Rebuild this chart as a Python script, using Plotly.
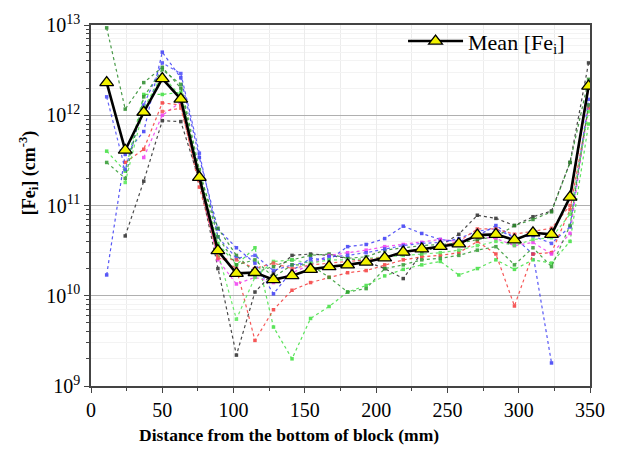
import plotly.graph_objects as go

# Sampling positions along the block (mm)
distance_mm = [11, 24, 37, 50, 63, 76, 89, 102, 115, 128, 141, 154, 167, 180,
               193, 206, 219, 232, 245, 258, 271, 284, 297, 310, 323, 336, 349]

# Interstitial iron concentration of the individual wafers (cm^-3)
wafer_blue_a = [1.7e10, 3.7e11, 6.6e11, 5.0e12, 2.6e12, 3.4e11, 5.5e10, 3.4e10, 2.3e10, 1.05e10,
                1.9e10, 2.6e10, 2.5e10, 3.5e10, 3.7e10, 4.3e10, 5.9e10, 4.9e10, 4.2e10, 4.0e10,
                4.6e10, 6.0e10, 4.4e10, 2.9e10, 1.8e9, None, None]
wafer_blue_b = [1.6e12, 2.5e11, 1.3e12, 3.8e12, 2.9e12, 3.8e11, 4.5e10, 2.6e10, 2.8e10, 1.9e10,
                2.2e10, 2.4e10, 2.7e10, 2.8e10, 3.0e10, 3.3e10, 3.6e10, 3.8e10, 3.9e10, 4.3e10,
                5.2e10, 5.5e10, 4.4e10, 4.6e10, 3.8e10, 5.8e10, 1.5e12]
wafer_lime_a = [4.0e11, 2.4e11, 1.7e12, 1.7e12, 1.8e12, 2.2e11, 3.8e10, 2.2e10, 3.4e10, 4.5e9,
                2.0e9, 5.6e9, 7.6e9, 1.1e10, 1.3e10, 1.66e10, 1.96e10, 2.2e10, 2.4e10, 1.7e10,
                2.0e10, 2.5e10, 1.96e10, 2.5e10, 2.3e10, 4.0e10, 8.0e11]
wafer_lime_b = [None, 1.8e11, 1.2e12, 2.8e12, 1.6e12, 2.0e11, 3.0e10, 5.5e9, 1.6e10, 2.4e10,
                2.5e10, 2.3e10, 2.5e10, 2.5e10, 2.6e10, 2.7e10, 2.8e10, 2.9e10, 3.0e10, 3.2e10,
                3.6e10, 4.0e10, 3.6e10, 4.2e10, 4.4e10, 8.0e10, 1.1e12]
wafer_red_a = [None, 3.0e11, 4.2e11, 1.37e12, 1.3e12, 1.6e11, 2.8e10, 2.0e10, 3.2e9, 7.0e9,
               1.15e10, 1.4e10, 1.6e10, 1.8e10, 1.9e10, 2.2e10, 2.5e10, 2.7e10, 2.8e10, 3.0e10,
               4.0e10, 2.9e10, 7.7e9, 2.9e10, 3.0e10, 9.0e10, 1.2e12]
wafer_red_b = [None, None, None, 1.1e12, 1.2e12, 1.9e11, 2.6e10, 2.5e10, 2.0e10, 2.3e10,
               2.0e10, 2.2e10, 2.3e10, 2.4e10, 2.5e10, 2.7e10, 3.0e10, 3.2e10, 3.6e10, 4.0e10,
               5.5e10, 5.5e10, 4.8e10, 5.2e10, 5.6e10, 1.0e11, 2.0e12]
wafer_black = [None, 4.6e10, 1.86e11, 8.7e11, 8.5e11, 1.9e11, 2.0e10, 2.2e9, 1.1e10, 1.8e10,
               2.8e10, 2.9e10, 2.8e10, 2.6e10, 2.4e10, 2.0e10, 1.55e10, 3.0e10, 3.6e10, 4.8e10,
               7.8e10, 7.2e10, 6.0e10, 7.5e10, 8.7e10, 3.0e11, 3.8e12]
wafer_green_a = [9.3e12, 1.17e12, 2.3e12, 3.4e12, 2.0e12, 2.2e11, 5.6e10, 2.8e10, 1.8e10, 2.1e10,
                 2.5e10, 2.8e10, 2.9e10, 2.6e10, 2.7e10, 3.2e10, 3.4e10, 3.6e10, 3.7e10, 3.8e10,
                 4.2e10, 4.5e10, 6.0e10, 7.0e10, 8.5e10, 3.0e11, 2.5e12]
wafer_green_b = [3.0e11, 2.0e11, 1.6e12, 3.2e12, 2.2e12, 2.5e11, 4.5e10, 2.2e10, 2.5e10, 1.6e10,
                 2.2e10, 2.2e10, 1.6e10, 1.1e10, 1.2e10, 2.0e10, 2.2e10, 2.5e10, 2.6e10, 2.8e10,
                 3.2e10, 3.5e10, 2.2e10, 3.4e10, 2.1e10, 6.0e10, 1.3e12]
wafer_magenta = [None, None, 3.4e11, 1.0e12, 1.4e12, 2.0e11, 2.5e10, 1.35e10, 1.6e10, 1.4e10,
                 1.8e10, 2.2e10, 2.8e10, 3.0e10, 3.2e10, 3.5e10, 3.7e10, 3.9e10, 4.2e10, 4.0e10,
                 4.5e10, 4.3e10, 3.6e10, 3.9e10, 2.9e10, 4.9e10, 1.3e12]

# Mean concentration over all wafers (cm^-3)
mean_fe = [2.3e12, 4.1e11, 1.08e12, 2.55e12, 1.51e12, 2.05e11, 3.16e10, 1.77e10, 1.81e10, 1.51e10,
           1.67e10, 1.96e10, 2.1e10, 2.2e10, 2.36e10, 2.63e10, 3.05e10, 3.3e10, 3.52e10, 3.76e10,
           4.7e10, 4.79e10, 4.15e10, 4.99e10, 4.79e10, 1.24e11, 2.1e12]

y_tick_vals = [1e9, 1e10, 1e11, 1e12, 1e13]
y_tick_text = ["10<sup>9</sup>", "10<sup>10</sup>", "10<sup>11</sup>", "10<sup>12</sup>", "10<sup>13</sup>"]
x_tick_vals = [0, 50, 100, 150, 200, 250, 300, 350]

wafers = [
    (wafer_blue_a, "#3a3af5"),
    (wafer_lime_a, "#3fe03f"),
    (wafer_red_a, "#f53a3a"),
    (wafer_black, "#2a2a2a"),
    (wafer_green_a, "#2a8a2a"),
    (wafer_magenta, "#f03cf0"),
    (wafer_blue_b, "#4a4afa"),
    (wafer_lime_b, "#55e855"),
    (wafer_red_b, "#f55050"),
    (wafer_green_b, "#309a30"),
]

serif = "Liberation Serif"

fig = go.Figure()
for values, color in wafers:
    fig.add_trace(go.Scatter(
        x=distance_mm, y=values, mode="lines+markers",
        line=dict(color=color, width=1.2, dash="dot"),
        marker=dict(color=color, size=3.5, symbol="square"),
        showlegend=False, connectgaps=False, opacity=0.85,
    ))

fig.add_trace(go.Scatter(
    x=distance_mm, y=mean_fe, mode="lines+markers", name="Mean [Fe<sub>i</sub>]",
    line=dict(color="black", width=2.6),
    marker=dict(symbol="triangle-up", size=12, color="#f2f200",
                line=dict(color="black", width=1.3)),
))

fig.update_layout(
    width=617, height=449,
    margin=dict(l=91, r=25, t=17, b=63),
    paper_bgcolor="white", plot_bgcolor="white",
    font=dict(family=serif, color="black", size=18),
    legend=dict(x=0.96, y=0.955, xanchor="right", yanchor="middle",
                bgcolor="rgba(255,255,255,0)",
                font=dict(family=serif, size=22), borderwidth=0,
                itemwidth=55, tracegroupgap=0),
    # white patch behind the legend so the grid does not show through it
    shapes=[dict(type="rect", xref="paper", yref="paper",
                 x0=0.623, x1=1, y0=0.897, y1=1, layer="between",
                 fillcolor="white", line=dict(width=0))],
    annotations=[
        dict(text="<b>Distance from the bottom of block (mm)</b>",
             xref="paper", yref="paper", x=0.397, y=-0.136,
             xanchor="center", yanchor="middle", showarrow=False,
             font=dict(family=serif, size=17.5)),
        dict(text="<b>[Fe<sub>i</sub>] (cm<sup>-3</sup>)</b>",
             xref="paper", yref="paper", x=-0.126, y=0.59, textangle=-90,
             xanchor="center", yanchor="middle", showarrow=False,
             font=dict(family=serif, size=18)),
    ],
)
fig.update_xaxes(
    range=[0, 350], tickvals=x_tick_vals, ticks="outside", ticklen=5, tickwidth=1,
    tickfont=dict(family=serif, size=20),
    showline=True, linecolor="#444", linewidth=1.5, mirror=True,
    showgrid=True, gridcolor="#ececec", gridwidth=1, zeroline=False,
    minor=dict(dtick=25, ticks="outside", ticklen=3, showgrid=True, gridcolor="#ececec"),
)
fig.update_yaxes(
    type="log", range=[9, 13], tickvals=y_tick_vals, ticktext=y_tick_text,
    ticks="outside", ticklen=5, tickwidth=1,
    tickfont=dict(family=serif, size=20),
    showline=True, linecolor="#444", linewidth=1.5, mirror=True,
    showgrid=True, gridcolor="#b0b0b0", gridwidth=1, zeroline=False,
    minor=dict(dtick="D1", ticks="outside", ticklen=3, showgrid=True, gridcolor="#f3f3f3"),
)

fig.write_html("out.html")
